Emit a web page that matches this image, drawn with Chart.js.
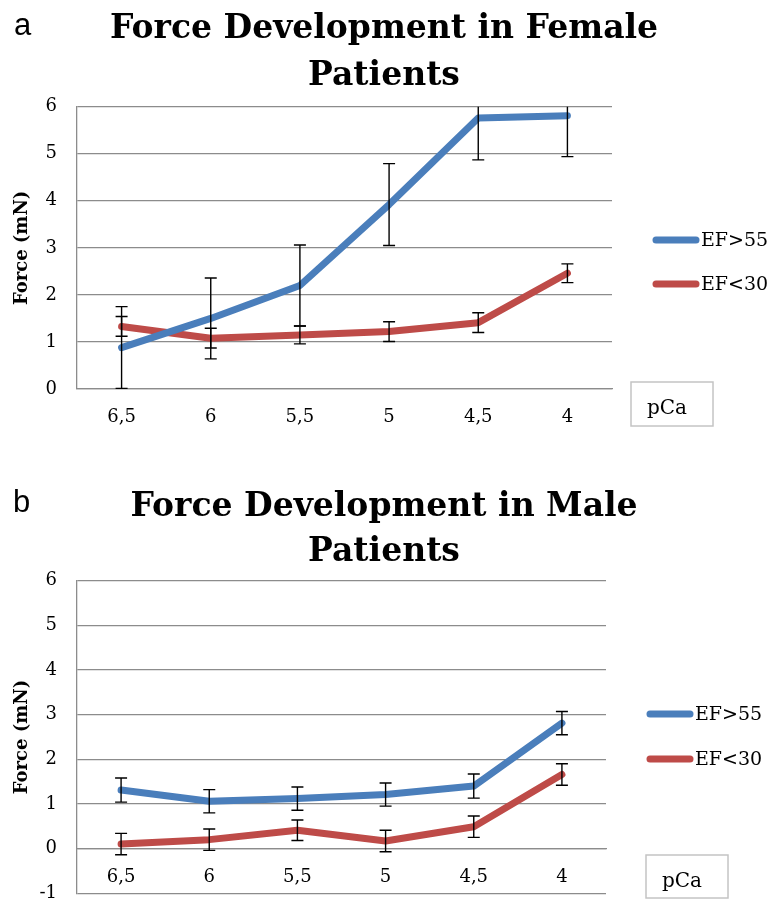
<!DOCTYPE html>
<html>
<head>
<meta charset="utf-8">
<script src="https://cdn.jsdelivr.net/npm/chart.js@4.4.1/dist/chart.umd.min.js"></script>
<style>
  body { margin: 0; background: #fff; width: 768px; height: 901px; position: relative; overflow: hidden; }
  .panel { position: absolute; left: 0; width: 768px; }
  .tag { position: absolute; font-family: 'Liberation Sans', Arial, sans-serif; font-size: 31px; line-height: 1; color: #000; }
</style>
</head>
<body>
<div class="panel" style="top:0;height:472px"><canvas id="chartA" width="768" height="472"></canvas></div>
<!-- taller than the space left: the x labels keep ~32px free under the plot, the rest is cut off -->
<div class="panel" style="top:472px;height:452px"><canvas id="chartB" width="768" height="452"></canvas></div>
<span class="tag" style="left:14px;top:9px">a</span>
<span class="tag" style="left:13px;top:486px">b</span>
<script>
// Data
const pCaLabels = ['6,5', '6', '5,5', '5', '4,5', '4'];
const seriesNames = ['EF>55', 'EF<30'];

const femaleHigh = [0.88, 1.50, 2.20, 3.92, 5.76, 5.81];
const femaleHighErr = [0.87, 0.86, 0.86, 0.87, 0.89, 0.87];
const femaleLow = [1.33, 1.08, 1.15, 1.22, 1.41, 2.46];
const femaleLowErr = [0.21, 0.21, 0.19, 0.21, 0.21, 0.20];

const maleHigh = [1.31, 1.06, 1.12, 1.21, 1.40, 2.81];
const maleHighErr = [0.27, 0.26, 0.26, 0.26, 0.27, 0.26];
const maleLow = [0.10, 0.20, 0.41, 0.17, 0.49, 1.66];
const maleLowErr = [0.24, 0.24, 0.23, 0.24, 0.24, 0.24];

// Colours
const BLUE = '#4a7ebb';
const RED = '#be4b48';
const GRID = '#8c8c8c';
const SERIF = "'DejaVu Serif', serif";

// Error bars with caps, clipped to the plot area like Excel does
const errorBarsPlugin = {
  id: 'errorBars',
  afterDatasetsDraw(chart) {
    const { ctx, chartArea, scales } = chart;
    ctx.save();
    ctx.beginPath();
    ctx.rect(chartArea.left, chartArea.top, chartArea.width, chartArea.height);
    ctx.clip();
    ctx.strokeStyle = '#000';
    ctx.lineWidth = 1.4;
    chart.data.datasets.forEach((ds, i) => {
      if (!ds.errors) return;
      const meta = chart.getDatasetMeta(i);
      meta.data.forEach((pt, j) => {
        const v = ds.data[j];
        const e = ds.errors[j];
        const yTop = scales.y.getPixelForValue(v + e);
        const yBot = scales.y.getPixelForValue(v - e);
        const x = pt.x;
        ctx.beginPath();
        ctx.moveTo(x, yTop); ctx.lineTo(x, yBot);
        ctx.moveTo(x - 6, yTop); ctx.lineTo(x + 6, yTop);
        ctx.moveTo(x - 6, yBot); ctx.lineTo(x + 6, yBot);
        ctx.stroke();
      });
    });
    ctx.restore();
  }
};

// Excel style legend to the right of the plot
const sideLegendPlugin = {
  id: 'sideLegend',
  afterDraw(chart, args, opts) {
    const { ctx, chartArea } = chart;
    const x0 = chartArea.right;
    ctx.save();
    chart.data.datasets.forEach((ds, i) => {
      const y = opts.rows[i];
      ctx.strokeStyle = ds.borderColor;
      ctx.lineWidth = 7;
      ctx.lineCap = 'round';
      ctx.beginPath();
      ctx.moveTo(x0 + 44, y);
      ctx.lineTo(x0 + 84, y);
      ctx.stroke();
      ctx.fillStyle = '#000';
      ctx.font = '19px ' + SERIF;
      ctx.textBaseline = 'middle';
      ctx.textAlign = 'left';
      ctx.fillText(ds.label, x0 + 89, y + 1);
    });
    ctx.restore();
  }
};

// The boxed "pCa" axis caption
const pcaBoxPlugin = {
  id: 'pcaBox',
  afterDraw(chart, args, opts) {
    const { ctx } = chart;
    ctx.save();
    ctx.strokeStyle = '#c4c4c4';
    ctx.lineWidth = 1.5;
    ctx.strokeRect(opts.left, opts.top, opts.width, opts.height);
    ctx.fillStyle = '#000';
    ctx.font = '20px ' + SERIF;
    ctx.textBaseline = 'alphabetic';
    ctx.textAlign = 'left';
    ctx.fillText(opts.text, opts.left + 16, opts.top + opts.height / 2 + 10);
    ctx.restore();
  }
};

function makeChart(canvasId, cfg) {
  const datasets = [
    { label: seriesNames[0], data: cfg.high, errors: cfg.highErr, borderColor: BLUE, backgroundColor: BLUE },
    { label: seriesNames[1], data: cfg.low, errors: cfg.lowErr, borderColor: RED, backgroundColor: RED }
  ].map(ds => Object.assign(ds, {
    borderWidth: 7,
    pointRadius: 0,
    tension: 0,
    borderCapStyle: 'round',
    borderJoinStyle: 'round'
  }));

  return new Chart(document.getElementById(canvasId), {
    type: 'line',
    data: { labels: pCaLabels, datasets: datasets },
    plugins: [errorBarsPlugin, sideLegendPlugin, pcaBoxPlugin],
    options: {
      responsive: false,
      animation: false,
      devicePixelRatio: 1,
      layout: { padding: { left: 0, right: 0, top: 0, bottom: cfg.padBottom } },
      plugins: {
        legend: { display: false },
        tooltip: { enabled: false },
        title: {
          display: true,
          text: cfg.title,
          color: '#000',
          font: { family: SERIF, weight: 'bold', size: 33, lineHeight: cfg.titleLine },
          padding: cfg.titlePad
        },
        sideLegend: { rows: cfg.legendRows },
        pcaBox: Object.assign({ text: 'pCa' }, cfg.pcaBox)
      },
      scales: {
        x: {
          offset: true,
          position: { y: 0 },
          grid: { display: false, drawTicks: false },
          border: { display: true, color: GRID, width: 1.3 },
          ticks: { color: '#000', padding: 18, maxRotation: 0, font: { family: SERIF, size: 18 } }
        },
        y: {
          min: cfg.yMin,
          max: 6,
          ticks: { stepSize: 1, color: '#000', padding: 20, font: { family: SERIF, size: 18 } },
          grid: { color: GRID, lineWidth: 1.3, drawTicks: false },
          border: { display: true, color: GRID, width: 1.3 },
          title: {
            display: true,
            text: 'Force (mN)',
            color: '#000',
            font: { family: SERIF, weight: 'bold', size: 18 },
            padding: { top: 12, bottom: 0 }
          },
          afterFit(scale) { scale.width = 77; }
        },
        // empty scale that reserves the room for the legend on the right
        side: {
          type: 'linear',
          position: 'right',
          grid: { display: false },
          border: { display: false },
          ticks: { display: false },
          afterFit(scale) { scale.width = cfg.sideWidth; }
        }
      }
    }
  });
}

makeChart('chartA', {
  title: ['Force Development in Female', 'Patients'],
  titleLine: 1.42,
  titlePad: { top: 6, bottom: 7 },
  high: femaleHigh, highErr: femaleHighErr,
  low: femaleLow, lowErr: femaleLowErr,
  yMin: 0,
  sideWidth: 156,
  padBottom: 83,
  legendRows: [240, 284],
  pcaBox: { left: 631, top: 382, width: 82, height: 44 }
});

makeChart('chartB', {
  title: ['Force Development in Male', 'Patients'],
  titleLine: 1.36,
  titlePad: { top: 13, bottom: 6 },
  high: maleHigh, highErr: maleHighErr,
  low: maleLow, lowErr: maleLowErr,
  yMin: -1,
  sideWidth: 162,
  padBottom: 0,
  legendRows: [242, 287],
  pcaBox: { left: 646, top: 383, width: 82, height: 43 }
});
</script>
</body>
</html>
